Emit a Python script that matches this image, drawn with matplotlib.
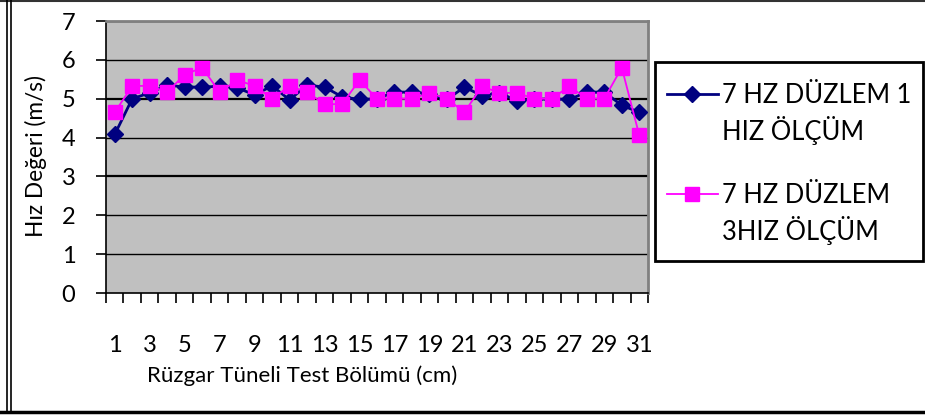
import matplotlib
matplotlib.use("Agg")
import matplotlib.pyplot as plt
from matplotlib.lines import Line2D
from matplotlib.patches import Rectangle
import numpy as np

plt.rcParams['font.family'] = ['Lato', 'DejaVu Sans']

# Measurement positions along the tunnel test section (cm)
positions = list(range(1, 32))

# Plane 1 velocity measurement (m/s)
plane1_speed = [4.08, 5.00, 5.15, 5.35, 5.30, 5.30, 5.32, 5.28, 5.10, 5.33,
                4.97, 5.35, 5.30, 5.05, 4.98, 5.00, 5.17, 5.17, 5.13, 4.98,
                5.30, 5.08, 5.15, 4.95, 4.98, 5.00, 4.98, 5.17, 5.17, 4.83,
                4.65]

# Plane 3 velocity measurement (m/s)
plane3_speed = [4.65, 5.33, 5.33, 5.17, 5.62, 5.80, 5.17, 5.48, 5.33, 5.00,
                5.33, 5.17, 4.86, 4.86, 5.48, 5.00, 5.00, 5.00, 5.15, 5.00,
                4.65, 5.32, 5.15, 5.15, 5.00, 5.00, 5.32, 5.00, 5.00, 5.80,
                4.06]

series_labels = ["7 HZ DÜZLEM 1\nHIZ ÖLÇÜM", "7 HZ DÜZLEM\n3HIZ ÖLÇÜM"]
y_ticks = [0, 1, 2, 3, 4, 5, 6, 7]
x_tick_labels = [str(p) for p in positions[::2]]
x_label = "Rüzgar Tüneli Test Bölümü (cm)"
y_label = "Hız Değeri (m/s)"

W, H = 925, 417
fig = plt.figure(figsize=(W / 100, H / 100), dpi=100)
fig.patch.set_facecolor("white")

def px(x0, y0, x1, y1):
    # figure-fraction rect from pixel box (top-left origin)
    return [x0 / W, 1 - y1 / H, (x1 - x0) / W, (y1 - y0) / H]

ax = fig.add_axes(px(106, 21, 648, 293))
ax.set_facecolor("#C0C0C0")

BLUE = "#000080"
PINK = "#FF00FF"
FS = 17

ax.plot(positions, plane1_speed, color=BLUE, lw=2.0, marker="D",
        markersize=8.5, markerfacecolor=BLUE, markeredgecolor=BLUE, zorder=3)
ax.plot(positions, plane3_speed, color=PINK, lw=1.3, marker="s",
        markersize=10.5, markerfacecolor=PINK, markeredgecolor=PINK, zorder=4)

ax.set_xlim(0.5, 31.5)
ax.set_ylim(0, 7)

# horizontal gridlines
for v in y_ticks[1:-1]:
    ax.axhline(v, color="black", lw=1.6 if v in (3, 5) else 1.0, zorder=1)
ax.axhline(7, color="black", lw=1.0, zorder=1)

for side in ("top", "right"):
    ax.spines[side].set_color("#808080")
    ax.spines[side].set_linewidth(2.0)
for side in ("left", "bottom"):
    ax.spines[side].set_color("black")
    ax.spines[side].set_linewidth(1.2)

ax.set_yticks(y_ticks)
ax.set_yticklabels([str(v) for v in y_ticks], fontsize=FS)
ax.tick_params(axis="y", direction="out", length=7, width=1.2, pad=15,
               colors="black")

ax.set_xticks(positions[::2])
ax.set_xticklabels(x_tick_labels, fontsize=FS)
ax.set_xticks(np.arange(0.5, 32, 1), minor=True)
ax.tick_params(axis="x", which="major", length=0, pad=30)
ax.tick_params(axis="x", which="minor", direction="out", length=7, width=1.2)

fig.text(36 / W, 1 - 156 / H, y_label, rotation=90, fontsize=16.3,
         ha="center", va="center")
fig.text(302 / W, 1 - 376 / H, x_label, fontsize=16, ha="center",
         va="center")

# legend box
LFS = 18.4
fig.patches.append(Rectangle((655 / W, 1 - 261 / H), (923 - 655) / W,
                             (261 - 62) / H, transform=fig.transFigure,
                             facecolor="white", edgecolor="black", lw=2))
legend_rows = [(94, BLUE, "D", 2.0, 8.5), (194, PINK, "s", 1.3, 10.5)]
for (yc, col, mk, lw, ms), lab in zip(legend_rows, series_labels):
    yf = 1 - yc / H
    fig.add_artist(Line2D([667 / W, 718 / W], [yf, yf], color=col, lw=lw,
                          transform=fig.transFigure))
    fig.add_artist(Line2D([692 / W], [yf], marker=mk, color=col, ms=ms,
                          transform=fig.transFigure))
    first, second = lab.split("\n")
    fig.text(722 / W, 1 - (yc + 9) / H, first, fontsize=LFS, ha="left",
             va="baseline")
    fig.text(722 / W, 1 - (yc + 46) / H, second, fontsize=LFS, ha="left",
             va="baseline")

# outer chart frame
fig.add_artist(Line2D([0, 1], [1 - 0.5 / H] * 2, color="#333333", lw=1.5,
                      transform=fig.transFigure))
fig.add_artist(Line2D([0, 1], [1 - 412 / H] * 2, color="black", lw=2.5,
                      transform=fig.transFigure))
for xp in (7, 10.5):
    fig.add_artist(Line2D([xp / W] * 2, [1 - 412 / H, 1], color="black",
                          lw=1.2, transform=fig.transFigure))

fig.savefig("out.png", dpi=100)
